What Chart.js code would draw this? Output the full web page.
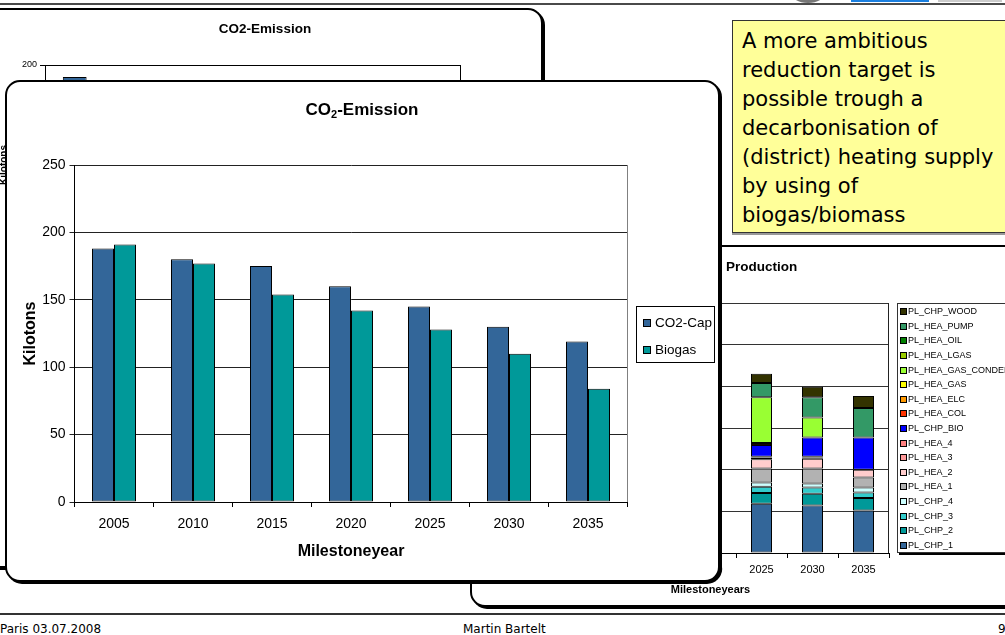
<!DOCTYPE html>
<html>
<head>
<meta charset="utf-8">
<script src="https://cdn.jsdelivr.net/npm/chart.js@4.4.1/dist/chart.umd.min.js"></script>
<style>
  html, body { margin: 0; padding: 0; background: #fff; }
  body { width: 1005px; height: 635px; position: relative; overflow: hidden;
         font-family: "Liberation Sans", Arial, sans-serif; color: #000; }
  .abs { position: absolute; }
  .panel { position: absolute; background: #fff; border: 2px solid #000; border-radius: 15px;
           box-shadow: 2px 2px 0 #000; box-sizing: border-box; }
  canvas { position: absolute; }
  .note { position: absolute; left: 732px; top: 20px; width: 320px; height: 213px; box-sizing: border-box;
          background: #ffff99; border: 1px solid #333; box-shadow: 0 2px 0 #999;
          font-family: "DejaVu Sans", sans-serif; font-size: 21px; line-height: 29px;
          padding: 6px 0 0 9px; z-index: 5; }
  .footer { position: absolute; top: 622px; font-family: "DejaVu Sans", sans-serif; font-size: 12px; line-height: 14px; }
</style>
</head>
<body>

<!-- slide header rule and logo strip -->
<div class="abs" style="left:790px;top:-20px;width:36px;height:23px;border-radius:50%;background:#777;"></div>
<div class="abs" style="left:851px;top:0;width:78px;height:2px;background:#1a7fe0;"></div>
<div class="abs" style="left:938px;top:0;width:64px;height:2px;background:#ccc;"></div>
<div class="abs" style="left:0;top:3px;width:1005px;height:2px;background:#4a4a4a;"></div>

<!-- earlier emission chart, lying underneath -->
<div class="panel" style="left:-30px;top:8px;width:573px;height:560px;z-index:1;"></div>
<canvas id="backChart" width="541" height="300" style="left:0;top:10px;z-index:2;"></canvas>
<div class="abs" style="left:0;top:21px;width:530px;text-align:center;font-weight:bold;font-size:13.5px;line-height:16px;z-index:2;">CO2-Emission</div>

<!-- heat production chart -->
<div class="panel" style="left:470px;top:245px;width:600px;height:362px;z-index:3;"></div>
<canvas id="prodChart" width="532" height="357" style="left:473px;top:248px;z-index:4;"></canvas>
<div class="abs" style="left:726px;top:259px;font-weight:bold;font-size:13.5px;line-height:16px;z-index:4;">Production</div>

<!-- remark -->
<div class="note">A more ambitious<br>reduction target is<br>possible trough a<br>decarbonisation of<br>(district) heating supply<br>by using of<br>biogas/biomass</div>

<!-- main emission chart -->
<div class="panel" style="left:5px;top:80px;width:715px;height:502px;z-index:6;"></div>
<canvas id="mainChart" width="708" height="497" style="left:8px;top:83px;z-index:7;"></canvas>
<div class="abs" style="left:8px;top:100px;width:708px;text-align:center;font-weight:bold;font-size:17px;line-height:20px;z-index:8;">CO<sub style="font-size:11px;vertical-align:-3px;line-height:0;">2</sub>-Emission</div>

<!-- footer -->
<div class="abs" style="left:0;top:613px;width:1005px;height:2px;background:#333;"></div>
<div class="footer" style="left:0;">Paris 03.07.2008</div>
<div class="footer" style="left:463px;">Martin Bartelt</div>
<div class="footer" style="left:998px;">9</div>

<script>
// ---- emission data (kilotons) ----
const years = ['2005', '2010', '2015', '2020', '2025', '2030', '2035'];
const co2Cap = [188, 180, 175, 160, 145, 130, 119];
const biogas = [191, 177, 154, 142, 128, 110, 84];
const emissionTicks = [0, 50, 100, 150, 200, 250];
const backTicks = [0, 50, 100, 150, 200];

// ---- heat production by plant (stacked) ----
const prodTicks = [0, 100, 200, 300, 400, 500, 600];
const chp1        = [null, null, null, null, 118, 114, 102];
const chp2        = [null, null, null, null, 26, 28, 30];
const chp3        = [null, null, null, null, 15, 15, 13];
const chp4        = [null, null, null, null, 10, 10, 12];
const hea1        = [null, null, null, null, 34, 36, 24];
const hea2        = [null, null, null, null, 22, 23, 19];
const hea3        = [null, null, null, null, 4, 3, 0];
const hea4        = [null, null, null, null, 2, 2, 0];
const chpBio      = [null, null, null, null, 28, 46, 77];
const heaCol      = [null, null, null, null, 5, 0, 0];
const heaElc      = [null, null, null, null, 0, 0, 0];
const heaGas      = [null, null, null, null, 0, 0, 0];
const heaGasCond  = [null, null, null, null, 110, 48, 0];
const heaLgas     = [null, null, null, null, 0, 0, 0];
const heaOil      = [null, null, null, null, 0, 0, 0];
const heaPump     = [null, null, null, null, 34, 49, 71];
const chpWood     = [null, null, null, null, 22, 25, 29];

const plantSeries = [
  ['PL_CHP_1', chp1, '#336699'],
  ['PL_CHP_2', chp2, '#009999'],
  ['PL_CHP_3', chp3, '#33cccc'],
  ['PL_CHP_4', chp4, '#ccffff'],
  ['PL_HEA_1', hea1, '#b2b2b2'],
  ['PL_HEA_2', hea2, '#ffcccc'],
  ['PL_HEA_3', hea3, '#ff9999'],
  ['PL_HEA_4', hea4, '#ff8080'],
  ['PL_CHP_BIO', chpBio, '#0000ff'],
  ['PL_HEA_COL', heaCol, '#ff3300'],
  ['PL_HEA_ELC', heaElc, '#ff9900'],
  ['PL_HEA_GAS', heaGas, '#ffff00'],
  ['PL_HEA_GAS_CONDENS', heaGasCond, '#99ff33'],
  ['PL_HEA_LGAS', heaLgas, '#99cc00'],
  ['PL_HEA_OIL', heaOil, '#008000'],
  ['PL_HEA_PUMP', heaPump, '#339966'],
  ['PL_CHP_WOOD', chpWood, '#333300']
];

Chart.defaults.font.family = '"Liberation Sans", Arial, sans-serif';
Chart.defaults.color = '#000';

// right-hand frame line of the plot area
const plotFrame = {
  id: 'plotFrame',
  beforeDatasetsDraw(chart, args, o) {
    const { top, right, bottom } = chart.chartArea;
    const ctx = chart.ctx;
    const x = Math.round(right) - 0.5;
    ctx.save();
    ctx.strokeStyle = o.color;
    ctx.lineWidth = 1;
    ctx.beginPath();
    ctx.moveTo(x, Math.round(top));
    ctx.lineTo(x, Math.round(bottom));
    ctx.stroke();
    ctx.restore();
  }
};

// boxed legend built from the chart's datasets
const boxLegend = {
  id: 'boxLegend',
  afterDraw(chart, args, o) {
    const ctx = chart.ctx;
    ctx.save();
    if (o.shadow) {
      ctx.fillStyle = '#000';
      ctx.fillRect(o.x + o.shadow, o.y + o.shadow, o.w, o.h);
    }
    ctx.fillStyle = '#fff';
    ctx.fillRect(o.x, o.y, o.w, o.h);
    ctx.strokeStyle = o.border;
    ctx.lineWidth = 1;
    ctx.strokeRect(o.x + 0.5, o.y + 0.5, o.w - 1, o.h - 1);
    const sets = chart.data.datasets.slice();
    if (o.reverse) sets.reverse();
    ctx.font = o.fontSize + 'px "Liberation Sans", Arial, sans-serif';
    ctx.textBaseline = 'middle';
    ctx.textAlign = 'left';
    sets.forEach((ds, i) => {
      const cy = o.rowY + i * o.rowStep;
      const sy = Math.round(cy - o.swatch / 2);
      ctx.fillStyle = ds.backgroundColor;
      ctx.fillRect(o.swatchX, sy, o.swatch, o.swatch);
      ctx.strokeStyle = '#000';
      ctx.strokeRect(o.swatchX + 0.5, sy + 0.5, o.swatch - 1, o.swatch - 1);
      ctx.fillStyle = '#000';
      ctx.fillText(ds.label, o.textX, cy);
    });
    ctx.restore();
  }
};

const baseOptions = {
  responsive: false,
  animation: false,
  devicePixelRatio: 1,
  events: []
};

// ---- main chart: CO2 emission by scenario ----
new Chart(document.getElementById('mainChart'), {
  type: 'bar',
  data: {
    labels: years,
    datasets: [
      { label: 'CO2-Cap', data: co2Cap, backgroundColor: '#336699' },
      { label: 'Biogas', data: biogas, backgroundColor: '#009999' }
    ]
  },
  options: Object.assign({}, baseOptions, {
    layout: { padding: { left: 0.5, top: 82, right: 88.5, bottom: 8 } },
    datasets: { bar: { borderColor: '#000', borderWidth: 1, borderSkipped: false,
                       categoryPercentage: 44 / 79, barPercentage: 1 } },
    plugins: {
      legend: { display: false }, tooltip: { enabled: false }, title: { display: false },
      plotFrame: { color: '#808080' },
      boxLegend: { x: 628, y: 223, w: 79, h: 57, rowY: 240, rowStep: 27, swatch: 8,
                   swatchX: 635, textX: 647, fontSize: 13.5, border: '#000', reverse: false }
    },
    scales: {
      x: {
        grid: { offset: true, drawOnChartArea: false, drawTicks: true, tickLength: 5, color: '#000' },
        border: { color: '#000' },
        ticks: { font: { size: 14 }, color: '#000', padding: 9 },
        title: { display: true, text: 'Milestoneyear', color: '#000',
                 font: { size: 16, weight: 'bold' }, padding: { top: 0, bottom: 11 } },
        afterFit: s => { s.height = 70; }
      },
      y: {
        min: emissionTicks[0], max: emissionTicks[emissionTicks.length - 1],
        ticks: { stepSize: emissionTicks[1] - emissionTicks[0], font: { size: 14 }, color: '#000', padding: 4 },
        grid: { color: '#222', tickLength: 5 },
        border: { color: '#000' },
        title: { display: true, text: 'Kilotons', color: '#000',
                 font: { size: 16, weight: 'bold' }, padding: { top: 12, bottom: 0 } },
        afterFit: s => { s.width = 66; }
      }
    }
  }),
  plugins: [plotFrame, boxLegend]
});

// ---- earlier emission chart (single series) ----
new Chart(document.getElementById('backChart'), {
  type: 'bar',
  data: { labels: years, datasets: [{ label: 'CO2-Cap', data: co2Cap, backgroundColor: '#336699' }] },
  options: Object.assign({}, baseOptions, {
    layout: { padding: { left: 0, top: 55, right: 80, bottom: 5 } },
    datasets: { bar: { borderColor: '#000', borderWidth: 1, borderSkipped: false,
                       categoryPercentage: 1, barPercentage: 0.4 } },
    plugins: { legend: { display: false }, tooltip: { enabled: false }, plotFrame: { color: '#000' } },
    scales: {
      x: {
        grid: { offset: true, drawOnChartArea: false, tickLength: 5, color: '#000' },
        border: { color: '#000' },
        ticks: { font: { size: 9 }, padding: 4 },
        afterFit: s => { s.height = 40; }
      },
      y: {
        min: backTicks[0], max: backTicks[backTicks.length - 1],
        ticks: { stepSize: backTicks[1] - backTicks[0], font: { size: 9 }, padding: 3 },
        grid: { color: '#000', tickLength: 5 },
        border: { color: '#000' },
        title: { display: true, text: 'Kilotons', font: { size: 10, weight: 'bold' }, padding: { top: -2, bottom: 0 } },
        afterFit: s => { s.width = 45; }
      }
    }
  }),
  plugins: [plotFrame]
});

// ---- heat production, stacked by plant ----
new Chart(document.getElementById('prodChart'), {
  type: 'bar',
  data: {
    labels: years,
    datasets: plantSeries.map(([label, data, color]) => ({ label, data, backgroundColor: color }))
  },
  options: Object.assign({}, baseOptions, {
    layout: { padding: { left: 0, top: 55, right: 116, bottom: 7 } },
    datasets: { bar: { borderColor: '#000', borderWidth: 1, borderSkipped: false,
                       categoryPercentage: 1, barPercentage: 21 / 51 } },
    plugins: {
      legend: { display: false }, tooltip: { enabled: false },
      plotFrame: { color: '#222' },
      boxLegend: { x: 424, y: 55, w: 130, h: 250, rowY: 63.7, rowStep: 14.6, swatch: 7,
                   swatchX: 427, textX: 435, fontSize: 9, border: '#333', reverse: true, shadow: 2 }
    },
    scales: {
      x: {
        stacked: true,
        grid: { offset: true, drawOnChartArea: false, tickLength: 5, color: '#000' },
        border: { color: '#000' },
        ticks: { font: { size: 11 }, padding: 5 },
        title: { display: true, text: 'Milestoneyears', font: { size: 11, weight: 'bold' }, padding: { top: 0, bottom: 1.5 } },
        afterFit: s => { s.height = 45; }
      },
      y: {
        stacked: true,
        min: prodTicks[0], max: prodTicks[prodTicks.length - 1],
        ticks: { stepSize: prodTicks[1] - prodTicks[0], font: { size: 9 }, padding: 3 },
        grid: { color: '#333', tickLength: 5 },
        border: { color: '#000' },
        afterFit: s => { s.width = 59; }
      }
    }
  }),
  plugins: [plotFrame, boxLegend]
});
</script>
</body>
</html>
